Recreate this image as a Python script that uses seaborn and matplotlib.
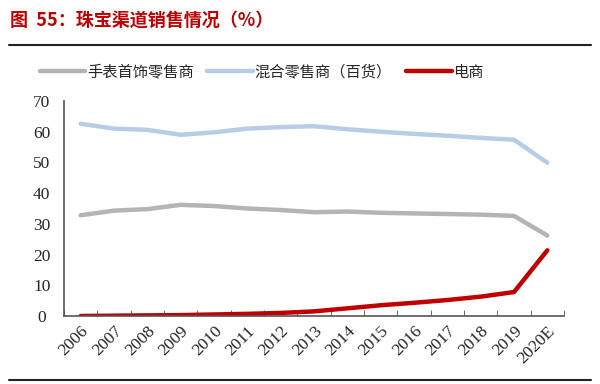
import pandas as pd
import numpy as np
import seaborn as sns
import matplotlib.pyplot as plt
from matplotlib.lines import Line2D
from matplotlib.ticker import FixedLocator

years = ['2006', '2007', '2008', '2009', '2010', '2011', '2012', '2013',
         '2014', '2015', '2016', '2017', '2018', '2019', '2020E']
watch_jewelry = [32.8, 34.3, 34.8, 36.2, 35.8, 35.0, 34.5, 33.8,
                 34.0, 33.6, 33.4, 33.2, 33.0, 32.6, 26.2]
mixed_retail = [62.6, 61.0, 60.6, 59.0, 59.8, 61.0, 61.5, 61.8,
                60.8, 60.0, 59.3, 58.7, 58.0, 57.4, 49.9]
ecommerce = [0.0, 0.1, 0.2, 0.3, 0.5, 0.7, 1.0, 1.5,
             2.5, 3.5, 4.3, 5.2, 6.3, 7.8, 21.4]
series_names = ['手表首饰零售商', '混合零售商（百货）', '电商']
colors = ['#B4B4B4', '#B7CDE6', '#C00000']

df = pd.DataFrame({'year': years * 3,
                   'value': watch_jewelry + mixed_retail + ecommerce,
                   'channel': [series_names[0]] * 15 + [series_names[1]] * 15 + [series_names[2]] * 15})

sns.set_style('white')
plt.rcParams['font.family'] = ['Noto Sans CJK SC', 'DejaVu Sans']

fig = plt.figure(figsize=(6, 3.84), dpi=100)
ax = fig.add_axes([64/600, 1 - 316/384, 500/600, 215/384])

sns.lineplot(data=df, x='year', y='value', hue='channel', palette=colors,
             linewidth=3.2, legend=False, ax=ax, solid_capstyle='round')

ax.set_xlim(-0.5, 14.5)
ax.set_ylim(0, 70)
ax.set_yticks(range(0, 71, 10))
ax.set_xticks(range(15))
ax.set_xticklabels(years, rotation=45, ha='right', rotation_mode='anchor',
                   family='Liberation Serif', fontsize=12.5)
ax.set_yticklabels([str(v) for v in range(0, 71, 10)], family='Liberation Serif', fontsize=12.5)
ax.xaxis.set_minor_locator(FixedLocator(np.arange(-0.5, 15, 1)))
ax.tick_params(axis='x', which='major', length=0, pad=5)
ax.tick_params(axis='x', which='minor', direction='in', length=4, color='#555555', bottom=True)
ax.tick_params(axis='y', length=0, pad=16)
for lbl in ax.get_yticklabels():
    lbl.set_horizontalalignment('center')
ax.set_xlabel('')
ax.set_ylabel('')
for s in ['top', 'right']:
    ax.spines[s].set_visible(False)
for s in ['left', 'bottom']:
    ax.spines[s].set_color('#555555')
    ax.spines[s].set_linewidth(1.2)

handles = [Line2D([], [], color=c, linewidth=3.2, solid_capstyle='round') for c in colors]
fig.legend(handles, series_names, loc='center', bbox_to_anchor=(0.436, 1 - 72/384),
           ncol=3, frameon=False, fontsize=11, handlelength=3.0, handletextpad=0.1,
           columnspacing=0.9)

fig.text(10/600, 1 - 20/384, '图  55：珠宝渠道销售情况（%）', color='#C00000',
         fontsize=13, fontweight='bold', va='center', ha='left')
fig.add_artist(Line2D([9/600, 591/600], [1 - 45/384, 1 - 45/384], color='#222222', linewidth=1.5))
fig.add_artist(Line2D([9/600, 591/600], [1 - 380/384, 1 - 380/384], color='#222222', linewidth=1.5))

fig.savefig('out.png', dpi=100)
